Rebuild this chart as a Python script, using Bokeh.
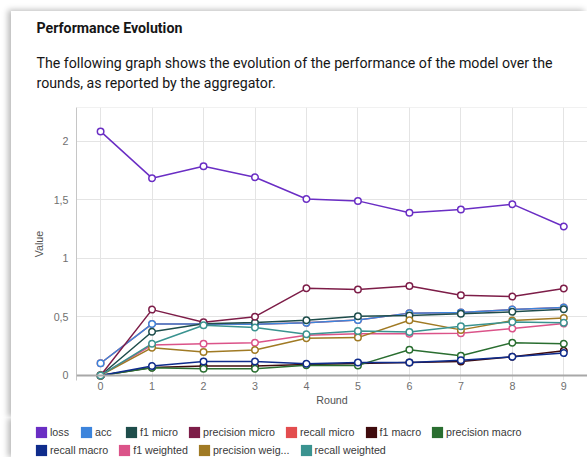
from bokeh.plotting import figure
from bokeh.models import (FixedTicker, Legend, LegendItem, Title, Span, Range1d)
from bokeh.embed import file_html
from bokeh.resources import INLINE

# ---------------- data ----------------
ROUNDS = [0, 1, 2, 3, 4, 5, 6, 7, 8, 9]
Y_TICKS = [0, 0.5, 1, 1.5, 2]
Y_TICK_LABELS = ["0", "0,5", "1", "1,5", "2"]

loss = [2.083, 1.684, 1.786, 1.692, 1.506, 1.490, 1.388, 1.416, 1.462, 1.271]
acc = [0.104, 0.440, 0.439, 0.438, 0.449, 0.473, 0.532, 0.537, 0.563, 0.579]
f1_micro = [0.0, 0.373, 0.442, 0.452, 0.472, 0.505, 0.511, 0.526, 0.543, 0.565]
precision_micro = [0.0, 0.562, 0.455, 0.502, 0.744, 0.733, 0.764, 0.685, 0.673, 0.743]
recall_micro = [0.104, 0.440, 0.439, 0.438, 0.449, 0.473, 0.532, 0.537, 0.563, 0.579]
f1_macro = [0.0, 0.068, 0.080, 0.080, 0.094, 0.103, 0.111, 0.120, 0.160, 0.211]
precision_macro = [0.0, 0.066, 0.057, 0.057, 0.087, 0.086, 0.220, 0.169, 0.280, 0.271]
recall_macro = [0.0, 0.080, 0.120, 0.120, 0.100, 0.111, 0.111, 0.129, 0.160, 0.191]
f1_weighted = [0.0, 0.260, 0.271, 0.280, 0.343, 0.357, 0.357, 0.360, 0.400, 0.443]
precision_weighted = [0.0, 0.237, 0.200, 0.217, 0.318, 0.323, 0.471, 0.389, 0.469, 0.491]
recall_weighted = [0.0, 0.271, 0.429, 0.409, 0.351, 0.380, 0.371, 0.420, 0.457, 0.449]

LABELS = ["loss", "acc", "f1 micro", "precision micro", "recall micro", "f1 macro",
          "precision macro", "recall macro", "f1 weighted", "precision weig...",
          "recall weighted"]
SERIES = [loss, acc, f1_micro, precision_micro, recall_micro, f1_macro,
          precision_macro, recall_macro, f1_weighted, precision_weighted,
          recall_weighted]
COLORS = ["#6a2ec4", "#3c84dc", "#1e4d4b", "#7d1d48", "#e34d4f", "#3f0b0d",
          "#2a6e30", "#0f2c8c", "#db5389", "#a07a24", "#3a9390"]
# drawing order (recall micro hidden under acc)
DRAW_ORDER = [0, 4, 1, 2, 3, 5, 6, 7, 8, 9, 10]

X_START, X_END = -0.468, 9.46
Y_START, Y_END = -0.043, 2.287

TITLE = "Performance Evolution"
PARAGRAPH = ("The following graph shows the evolution of the performance of the model over the\n"
             "rounds, as reported by the aggregator.")

CHART_FONT = "Liberation Sans"
TEXT_FONT = "Roboto"

p = figure(width=576, height=407, x_range=Range1d(X_START, X_END),
           y_range=Range1d(Y_START, Y_END), output_backend="svg",
           toolbar_location=None, min_border_left=65, min_border_right=0,
           min_border_top=96, min_border_bottom=38)
p.styles = {"margin-left": "11px", "margin-top": "11px",
            "box-shadow": "-3px -1px 6px rgba(0,0,0,0.28)",
            "clip-path": "inset(-12px 0px 0px -12px)"}
p.background_fill_color = "white"
p.border_fill_color = "white"
p.outline_line_color = None

# axes
p.xaxis.ticker = FixedTicker(ticks=ROUNDS)
p.yaxis.ticker = FixedTicker(ticks=Y_TICKS)
p.yaxis.major_label_overrides = {t: l for t, l in zip(Y_TICKS, Y_TICK_LABELS)}
for ax in (p.xaxis[0], p.yaxis[0]):
    ax.major_tick_line_color = None
    ax.minor_tick_line_color = None
    ax.major_tick_out = 0
    ax.major_tick_in = 0
    ax.minor_tick_out = 0
    ax.minor_tick_in = 0
    ax.major_label_text_font = CHART_FONT
    ax.major_label_text_font_size = "10.7px"
    ax.major_label_text_color = "#6f6f6f"
    ax.axis_label_text_font = CHART_FONT
    ax.axis_label_text_font_size = "10.7px"
    ax.axis_label_text_font_style = "normal"
    ax.axis_label_text_color = "#525252"
p.xaxis.axis_label = "Round"
p.yaxis.axis_label = "Value"
p.xaxis.axis_line_color = None
p.xaxis.major_label_standoff = 1
p.xaxis.axis_label_standoff = 1
p.yaxis.axis_line_color = "#c6c6c6"
p.yaxis.major_label_standoff = 8
p.yaxis.axis_label_standoff = 6

p.xgrid.ticker = FixedTicker(ticks=ROUNDS)
p.ygrid.ticker = FixedTicker(ticks=Y_TICKS)
p.xgrid.grid_line_color = "#e4e4e4"
p.ygrid.grid_line_color = "#e4e4e4"

p.add_layout(Span(location=Y_END, dimension="width", line_color="#e4e4e4", line_width=1))
p.add_layout(Span(location=0, dimension="width", line_color="#a8a8a8", line_width=2))

for i in DRAW_ORDER:
    p.line(ROUNDS, SERIES[i], line_color=COLORS[i], line_width=1.5)
for i in DRAW_ORDER:
    p.scatter(ROUNDS, SERIES[i], marker="circle", size=6.5, fill_color="white",
              line_color=COLORS[i], line_width=1.5)

# header texts (first added is closest to the plot)
p.add_layout(Title(text=PARAGRAPH, align="left", offset=-40, standoff=34,
                   text_font=TEXT_FONT, text_font_style="normal",
                   text_font_size="14.2px", text_color="#161616",
                   text_line_height=1.25), "above")
p.add_layout(Title(text=TITLE, align="left", offset=-40, standoff=0,
                   text_font=TEXT_FONT, text_font_style="bold",
                   text_font_size="14.2px", text_color="#161616"), "above")

# ---------------- legend strip (second root, directly below) ----------------
pl = figure(width=576, height=39, x_range=Range1d(0, 1), y_range=Range1d(0, 1),
            output_backend="svg", toolbar_location=None, min_border=0,
            x_axis_location=None, y_axis_location=None)
pl.styles = {"margin-left": "11px",
             "box-shadow": "-3px 0px 6px rgba(0,0,0,0.28)",
             "clip-path": "inset(0px 0px 0px -12px)"}
pl.grid.visible = False
pl.outline_line_color = None
pl.background_fill_color = "white"
pl.border_fill_color = "white"

NAN = float("nan")
items = []
for lab, col in zip(LABELS, COLORS):
    r = pl.quad(left=[NAN], right=[NAN], top=[NAN], bottom=[NAN],
                fill_color=col, line_color=None)
    items.append(LegendItem(label=lab, renderers=[r]))

def make_legend(its, loc):
    return Legend(items=its, location=loc, orientation="horizontal",
                  glyph_width=14, glyph_height=14, label_standoff=2, spacing=9,
                  padding=0, margin=0, border_line_color=None,
                  background_fill_alpha=0, label_text_font=CHART_FONT,
                  label_text_font_size="10.7px", label_text_color="#393939",
                  label_height=14)

pl.add_layout(make_legend(items[:7], (23, 18)))
pl.add_layout(make_legend(items[7:], (23, 0)))

open("out.html", "w").write(file_html([p, pl], INLINE))
